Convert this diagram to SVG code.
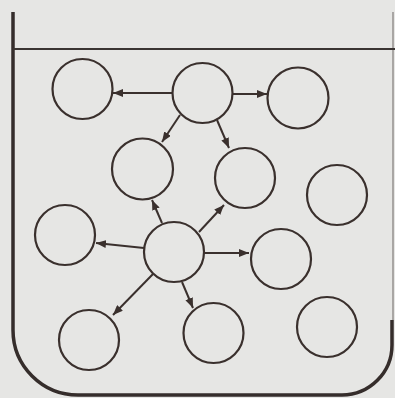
<svg xmlns="http://www.w3.org/2000/svg" width="395" height="398" viewBox="0 0 395 398">
<style>
.bg{fill:#e6e6e4}
.frame{fill:none;stroke:#352d2b;stroke-width:3.5;stroke-linecap:butt}
.faint{fill:none;stroke:#a9a6a4;stroke-width:2}
.hline{fill:none;stroke:#3a3432;stroke-width:2}
.node circle{fill:none;stroke:#3a302d;stroke-width:2.2}
.conn line{stroke:#3a302d;stroke-width:2;marker-end:url(#ah)}
</style>
<defs>
<marker id="ah" markerUnits="userSpaceOnUse" markerWidth="10" markerHeight="8" refX="10" refY="4" orient="auto">
<path d="M0,0 L10,4 L0,8 z" fill="#3a302d"/>
</marker>
</defs>
<rect class="bg" x="0" y="0" width="395" height="398"/>
<g id="frame">
<path class="frame" d="M13,12 V330 A65,65 0 0 0 78,395 H342 A50,50 0 0 0 392,345 V320"/>
<path class="faint" d="M393,320 V12"/>
<line class="hline" x1="13" y1="49" x2="395" y2="49"/>
</g>
<g id="connectors" class="conn">
<line x1="172" y1="93" x2="113" y2="93"/>
<line x1="233" y1="94" x2="267" y2="94"/>
<line x1="180" y1="115" x2="162" y2="142"/>
<line x1="217" y1="120" x2="229" y2="148"/>
<line x1="162" y1="223" x2="152" y2="200"/>
<line x1="199" y1="232" x2="224" y2="205"/>
<line x1="144" y1="248" x2="96" y2="243"/>
<line x1="204" y1="253" x2="249" y2="253"/>
<line x1="153" y1="274" x2="113" y2="315"/>
<line x1="182" y1="282" x2="193" y2="308"/>
</g>
<g id="n1" class="node"><circle cx="82.5" cy="89" r="30"/></g>
<g id="n2" class="node"><circle cx="202.5" cy="93" r="30"/></g>
<g id="n3" class="node"><circle cx="298" cy="98" r="30.5"/></g>
<g id="n4" class="node"><circle cx="142.5" cy="169" r="30.5"/></g>
<g id="n5" class="node"><circle cx="245" cy="178" r="30"/></g>
<g id="n6" class="node"><circle cx="337" cy="195" r="30"/></g>
<g id="n7" class="node"><circle cx="65" cy="235" r="30"/></g>
<g id="n8" class="node"><circle cx="174" cy="252" r="30"/></g>
<g id="n9" class="node"><circle cx="281" cy="259" r="30"/></g>
<g id="n10" class="node"><circle cx="89" cy="340" r="30"/></g>
<g id="n11" class="node"><circle cx="213.5" cy="333" r="30"/></g>
<g id="n12" class="node"><circle cx="327" cy="327" r="30"/></g>
</svg>
